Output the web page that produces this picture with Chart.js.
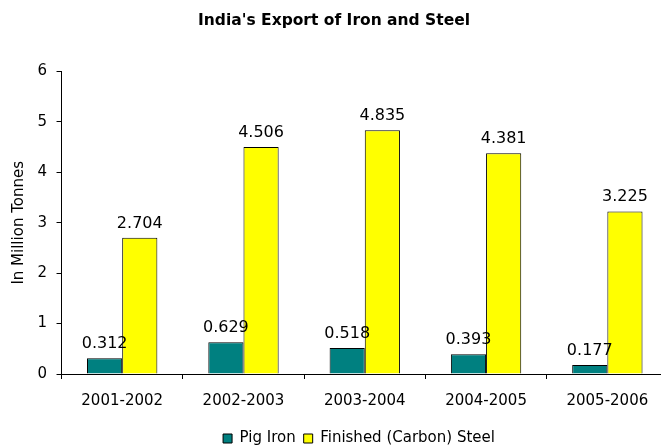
<!DOCTYPE html>
<html>
<head>
<meta charset="utf-8">
<script src="https://cdn.jsdelivr.net/npm/chart.js@4/dist/chart.umd.min.js"></script>
<style>
html,body{margin:0;padding:0;background:#fff;overflow:hidden;width:661px;height:447px;}
canvas{display:block;}
</style>
</head>
<body>
<canvas id="c" width="672" height="447"></canvas>
<script>
const categories = ['2001-2002','2002-2003','2003-2004','2004-2005','2005-2006'];
const pigIron = [0.312, 0.629, 0.518, 0.393, 0.177];
const finishedSteel = [2.704, 4.506, 4.835, 4.381, 3.225];
const seriesNames = ['Pig Iron', 'Finished (Carbon) Steel'];
const yTicks = [0,1,2,3,4,5,6];

const FONT = "'DejaVu Sans', Verdana, sans-serif";

const valueLabels = {
  id: 'valueLabels',
  afterDatasetsDraw(chart) {
    const ctx = chart.ctx;
    ctx.save();
    ctx.font = '16px ' + FONT;
    ctx.fillStyle = '#000';
    ctx.textAlign = 'center';
    ctx.textBaseline = 'alphabetic';
    chart.data.datasets.forEach((ds, i) => {
      const meta = chart.getDatasetMeta(i);
      meta.data.forEach((el, j) => {
        ctx.fillText(ds.data[j].toFixed(3), el.x, el.y - 10);
      });
    });
    ctx.restore();
  }
};

const shiftLegend = {
  id: 'shiftLegend',
  afterLayout(chart) {
    if (chart.legend) { chart.legend.left += 25; chart.legend.right += 25; }
  }
};

new Chart(document.getElementById('c'), {
  type: 'bar',
  data: {
    labels: categories,
    datasets: [
      { label: seriesNames[0], data: pigIron, backgroundColor: '#008080', borderColor: '#000', borderWidth: 1,
        categoryPercentage: 0.58, barPercentage: 1.0 },
      { label: seriesNames[1], data: finishedSteel, backgroundColor: '#FFFF00', borderColor: '#000', borderWidth: 1,
        categoryPercentage: 0.58, barPercentage: 1.0 }
    ]
  },
  options: {
    responsive: false,
    animation: false,
    devicePixelRatio: 1,
    layout: { padding: { left: 0, right: 4, top: 0, bottom: 0 } },
    plugins: {
      title: { display: true, text: "India's Export of Iron and Steel", color: '#000',
        font: { family: FONT, size: 15.5, weight: 'bold' }, padding: { top: 12, bottom: 41 } },
      legend: { position: 'bottom', maxHeight: 24,
        labels: { color: '#000', font: { family: FONT, size: 15 }, boxWidth: 9, boxHeight: 9, padding: 8 } },
      tooltip: { enabled: false }
    },
    scales: {
      x: {
        grid: { drawOnChartArea: false, drawTicks: true, tickLength: 5, color: '#000', offset: true },
        border: { display: true, color: '#000', width: 1 },
        ticks: { color: '#000', font: { family: FONT, size: 15 }, padding: 13, maxRotation: 0 }
      },
      y: {
        min: 0, max: 6,
        afterBuildTicks(scale) { scale.ticks = yTicks.map(v => ({ value: v })); },
        grid: { drawOnChartArea: false, drawTicks: true, tickLength: 5, color: '#000' },
        border: { display: true, color: '#000', width: 1 },
        ticks: { color: '#000', font: { family: FONT, size: 15 }, padding: 9.5 },
        title: { display: true, text: 'In Million Tonnes', color: '#000', font: { family: FONT, size: 15 }, padding: { top: 10, bottom: 0 } }
      }
    }
  },
  plugins: [valueLabels, shiftLegend]
});
</script>
</body>
</html>
